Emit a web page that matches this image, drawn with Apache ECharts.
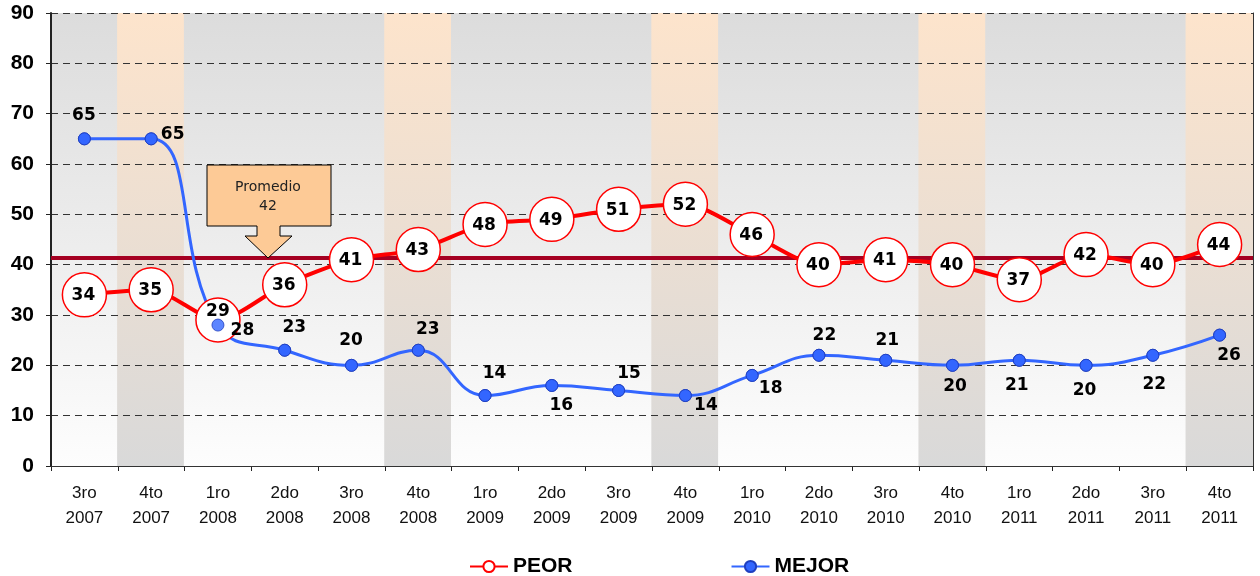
<!DOCTYPE html>
<html>
<head>
<meta charset="utf-8">
<script src="https://cdn.jsdelivr.net/npm/echarts@6/dist/echarts.min.js"></script>
<style>html,body{margin:0;padding:0;background:#fff}#c{width:1260px;height:576px}</style>
</head>
<body>
<div id="c"></div>
<script>
const categories = ['3ro\n2007','4to\n2007','1ro\n2008','2do\n2008','3ro\n2008','4to\n2008','1ro\n2009','2do\n2009','3ro\n2009','4to\n2009','1ro\n2010','2do\n2010','3ro\n2010','4to\n2010','1ro\n2011','2do\n2011','3ro\n2011','4to\n2011'];
const peor = [34,35,29,36,41,43,48,49,51,52,46,40,41,40,37,42,40,44];
const mejor = [65,65,28,23,20,23,14,16,15,14,18,22,21,20,21,20,22,26];
const promedioLinea = 41.3;
const promedioTexto = '42';
const yTicks = [0,10,20,30,40,50,60,70,80,90];

// label offsets from point centre (style only)
const mejorLabelOffset = [[0,-23],[22,-4],[25,6],[10,-22],[0,-24],[10,-20],[10,-21],[10,21],[11,-16],[21,11],[19,14],[6,-19],[2,-19],[3,22],[-2,26],[-1,26],[2,30],[10,21]];
const peorLabelOffset = peor.map((v,i)=> i===2 ? [0,-8] : [-1,1]);

const yMin = yTicks[0], yMax = yTicks[yTicks.length-1];
const grayGrad = {type:'linear',x:0,y:0,x2:0,y2:1,colorStops:[{offset:0,color:'#dcdcdc'},{offset:1,color:'#fdfdfd'}]};
const peachGrad = {type:'linear',x:0,y:0,x2:0,y2:1,colorStops:[{offset:0,color:'#fde4cc'},{offset:1,color:'#d9d9d9'}]};

const labelFont = {fontFamily:'DejaVu Sans',fontWeight:'bold',fontSize:17,color:'#000',textBorderWidth:0,opacity:1};

const chart = echarts.init(document.getElementById('c'));
chart.setOption({
  animation:false,
  backgroundColor:'#fff',
  grid:{left:51,right:7,top:13,bottom:110},
  legend:{
    data:['PEOR','MEJOR'],
    left:464, top:551, itemGap:158, itemWidth:38, itemHeight:14,
    textStyle:{fontFamily:'Liberation Sans',fontWeight:'bold',fontSize:21,color:'#000'}
  },
  xAxis:[{
    type:'category', data:categories, boundaryGap:true,
    axisLine:{lineStyle:{color:'#222',width:2}},
    axisTick:{show:true,length:5,lineStyle:{color:'#222',width:1}},
    axisLabel:{margin:15,fontFamily:'Liberation Sans',fontSize:17,lineHeight:25,color:'#111'},
    splitLine:{show:false}
  },{
    type:'category', data:categories, position:'top', z:5,
    axisLine:{lineStyle:{color:'#333',width:1}}, axisTick:{show:false}, axisLabel:{show:false}
  }],
  yAxis:[{
    type:'value', min:yMin, max:yMax, interval:10, z:3,
    axisLine:{show:true,lineStyle:{color:'#222',width:2}},
    axisTick:{show:true,length:5,lineStyle:{color:'#222'}},
    axisLabel:{margin:17,fontFamily:'Liberation Sans',fontWeight:'bold',fontSize:21,color:'#000'},
    splitLine:{show:true,lineStyle:{color:'#333',width:1,type:[7,5]}}
  },{
    type:'value', min:yMin, max:yMax, interval:10, position:'right', z:5,
    axisLine:{show:true,lineStyle:{color:'#333',width:1}}, axisTick:{show:false}, axisLabel:{show:false}, splitLine:{show:false}
  }],
  series:[
    {
      name:'bands', type:'bar', silent:true, barWidth:'102%', barGap:'-100%', z:1,
      data: categories.map(c=>({value:yMax, itemStyle:{color: c.startsWith('4to') ? peachGrad : grayGrad}})),
      label:{show:false}
    },
    {
      name:'MEJOR', type:'line', data:mejor, smooth:0.45, z:6,
      symbol:'circle', symbolSize:12,
      lineStyle:{color:'#3366ff',width:3},
      itemStyle:{color:'#3366ff',borderColor:'#1f3fbf',borderWidth:1},
      label:{show:false}
    },
    {
      name:'PEOR', type:'line', data:peor, smooth:0.25, z:7,
      symbol:'circle', symbolSize:44,
      lineStyle:{color:'#ff0000',width:4},
      itemStyle:{color:'#ffffff',borderColor:'#ff0000',borderWidth:1.5},
      label:Object.assign({show:true,position:'inside'}, labelFont),
      labelLayout:(p)=>({dx:peorLabelOffset[p.dataIndex][0],dy:peorLabelOffset[p.dataIndex][1]}),
      markLine:{
        silent:true, symbol:'none', label:{show:false},
        lineStyle:{color:'#a50021',width:4,type:'solid'},
        data:[{yAxis:promedioLinea}]
      }
    },
    {
      name:'MEJOR-pts', type:'scatter', data:mejor, z:8,
      symbol:'circle', symbolSize:12,
      itemStyle:{color:'#3366ff',borderColor:'#1f3fbf',borderWidth:1},
      label:Object.assign({show:true,position:[6,6],align:'center',verticalAlign:'middle'}, labelFont),
      labelLayout:(p)=>({dx:mejorLabelOffset[p.dataIndex][0],dy:mejorLabelOffset[p.dataIndex][1]})
    }
  ],
  graphic:[
    {type:'polygon', z:20,
     shape:{points:[[207,165],[331,165],[331,226],[280,226],[280,236],[292,236],[268,258],[245,236],[257,236],[257,226],[207,226]]},
     style:{fill:'#fdca96',stroke:'#000',lineWidth:1}},
    {type:'text', z:21, x:268, y:187,
     style:{text:'Promedio',align:'center',verticalAlign:'middle',font:'14px "DejaVu Sans"',fill:'#222'}},
    {type:'text', z:21, x:268, y:206,
     style:{text:promedioTexto,align:'center',verticalAlign:'middle',font:'14px "DejaVu Sans"',fill:'#222'}}
  ]
});
</script>
</body>
</html>
